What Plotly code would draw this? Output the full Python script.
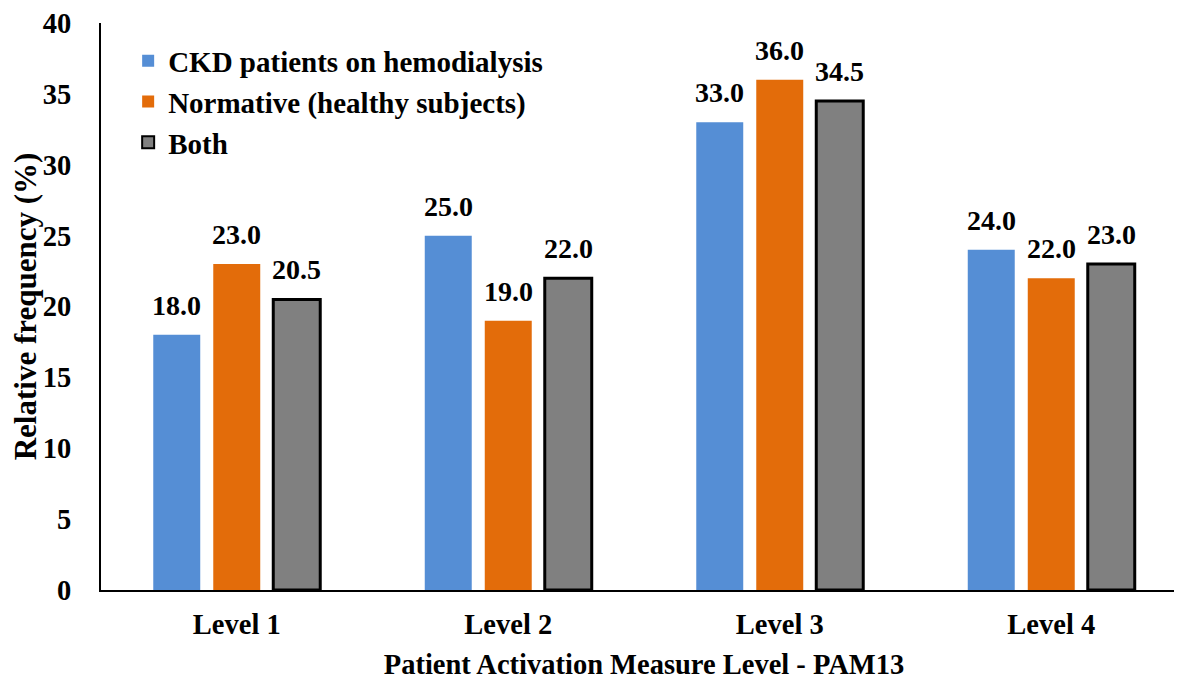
import plotly.graph_objects as go

categories = ["Level 1", "Level 2", "Level 3", "Level 4"]
ckd = [18.0, 25.0, 33.0, 24.0]
normative = [23.0, 19.0, 36.0, 22.0]
both = [20.5, 22.0, 34.5, 23.0]
y_ticks = [0, 5, 10, 15, 20, 25, 30, 35, 40]

FONT = "Liberation Serif"
lab_font = dict(family=FONT, size=28, color="black")

series = [
    ("CKD patients on hemodialysis", ckd, "#558ED5", dict(width=0)),
    ("Normative (healthy subjects)", normative, "#E36C0A", dict(width=0)),
    ("Both", both, "#808080", dict(color="black", width=3)),
]

fig = go.Figure()
for name, vals, color, line in series:
    fig.add_trace(go.Bar(x=categories, y=vals, name=f"<b>{name}</b>",
                         marker=dict(color=color, line=line)))

# value labels above each bar (grouped offsets: one bar slot = 60 px)
slot_px = 60
for i, (name, vals, color, line) in enumerate(series):
    for c, v in zip(categories, vals):
        fig.add_annotation(x=c, y=v, xref="x", yref="y", text=f"<b>{v:.1f}</b>",
                           showarrow=False, yanchor="bottom", xshift=(i - 1) * slot_px,
                           yshift=12, font=lab_font)

fig.update_layout(
    width=1182, height=680,
    margin=dict(l=93, r=3, t=15, b=98),
    plot_bgcolor="white", paper_bgcolor="white",
    barmode="group", bargap=0.337, bargroupgap=0.217,
    font=dict(family=FONT, size=28, color="black"),
    legend=dict(x=0.025, y=0.978, xanchor="left", yanchor="top",
                font=dict(family=FONT, size=29, color="black"),
                bgcolor="rgba(0,0,0,0)", itemsizing="constant",
                tracegroupgap=0, traceorder="normal", itemwidth=30),
    xaxis=dict(showline=True, linecolor="black", linewidth=2, ticks="", automargin=False,
               tickfont=dict(family=FONT, size=28.5, color="black"), ticklabelstandoff=8,
               title=dict(text="<b>Patient Activation Measure Level - PAM13</b>",
                          font=dict(family=FONT, size=28.5, color="black"))),
    yaxis=dict(range=[0, 40], tickvals=y_ticks, ticktext=[f"<b>{t}</b>" for t in y_ticks],
               showline=True, linecolor="black", linewidth=2, showgrid=False, ticks="",
               zeroline=False, ticklabelstandoff=22, automargin=False,
               ticklabeloverflow="allow",
               tickfont=dict(family=FONT, size=28.5, color="black"),
               title=dict(text="<b>Relative frequency (%)</b>",
                          font=dict(family=FONT, size=31, color="black"))),
)
fig.update_xaxes(ticktext=[f"<b>{c}</b>" for c in categories], tickvals=categories)
fig.write_html("out.html")
